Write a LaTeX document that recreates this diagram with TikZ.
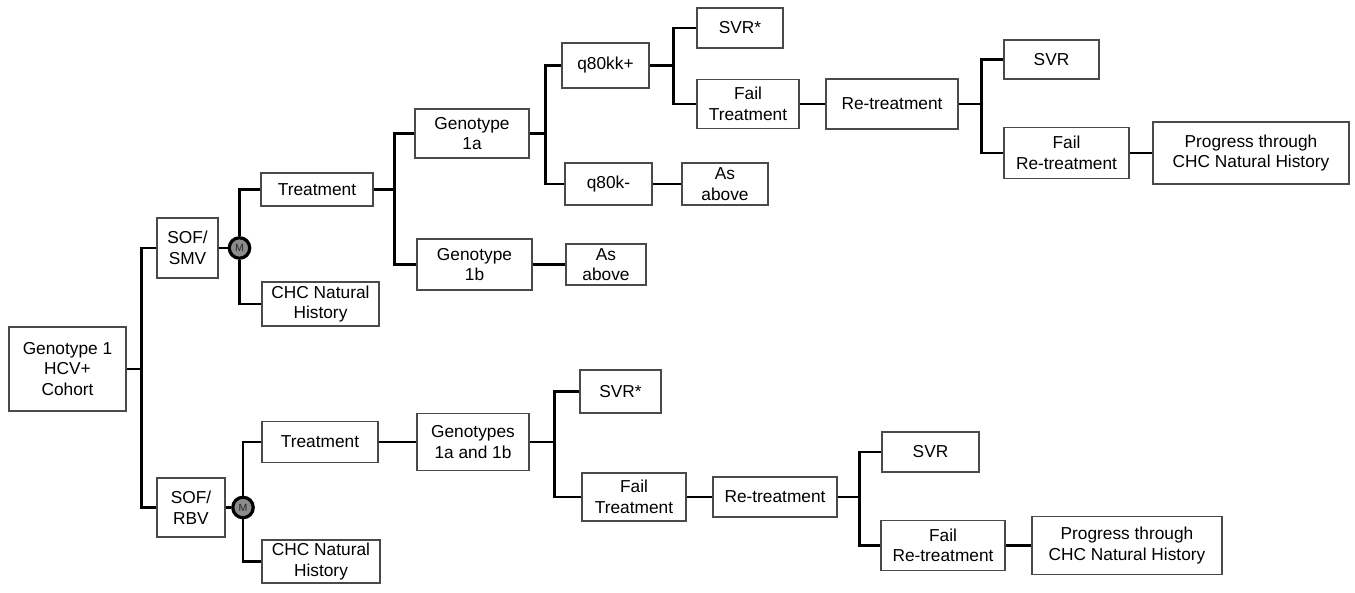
\documentclass[tikz,border=0pt]{standalone}
\usepackage{fontspec}
\setmainfont{Liberation Sans}
\definecolor{boxgray}{HTML}{4A4A4A}
\definecolor{mfill}{HTML}{8C8C8C}
\newcommand\nodefont{\fontsize{17.3}{20.5}\selectfont}
\begin{document}
\begin{tikzpicture}[x=1pt,y=-1pt,
  box/.style={draw=boxgray, line width=1.1pt, fill=white, align=center, inner sep=0pt, font=\nodefont},
  conn/.style={line width=2.8pt, black},
  mnode/.style={circle, draw=black, line width=3.2pt, fill=mfill, minimum size=20.5pt, inner sep=0pt, text=black!85, font=\fontsize{10.5}{10.5}\selectfont}]
\useasboundingbox[fill=white] (0,0) rectangle (1355,593);

% nodes
\node[box, minimum width=117pt, minimum height=84pt] (g1) at (67.5,369) {Genotype 1\\HCV+\\Cohort};
\node[box, minimum width=61pt, minimum height=60pt] (smv) at (187.5,248) {SOF/\\SMV};
\node[box, minimum width=68pt, minimum height=59pt] (rbv) at (191,507.5) {SOF/\\RBV};
\node[box, minimum width=112pt, minimum height=33pt] (tr1) at (317,189.5) {Treatment};
\node[box, minimum width=117pt, minimum height=44pt] (chc1) at (320.5,304) {CHC Natural\\History};
\node[box, minimum width=116pt, minimum height=41pt] (tr2) at (320,442) {Treatment};
\node[box, minimum width=118pt, minimum height=43pt] (chc2) at (321,561.5) {CHC Natural\\History};
\node[box, minimum width=114pt, minimum height=49pt] (g1a) at (472,133.5) {Genotype\\1a};
\node[box, minimum width=115pt, minimum height=51pt] (g1b) at (474.5,264.5) {Genotype\\1b};
\node[box, minimum width=80pt, minimum height=41pt] (ab1b) at (606,264.5) {As\\above};
\node[box, minimum width=87pt, minimum height=45pt] (q80p) at (605.5,65.5) {q80kk+};
\node[box, minimum width=87pt, minimum height=42pt] (q80m) at (608.5,184) {q80k-};
\node[box, minimum width=86pt, minimum height=42pt] (ab1a) at (725,184) {As\\above};
\node[box, minimum width=86pt, minimum height=40pt] (svrs1) at (740,28) {SVR*};
\node[box, minimum width=102pt, minimum height=49pt] (ft1) at (748,104) {Fail\\Treatment};
\node[box, minimum width=132pt, minimum height=50pt] (rt1) at (892,104) {Re-treatment};
\node[box, minimum width=95pt, minimum height=39pt] (svr1) at (1051.5,59.5) {SVR};
\node[box, minimum width=125pt, minimum height=51pt] (frt1) at (1066.5,153) {Fail\\Re-treatment};
\node[box, minimum width=196pt, minimum height=62pt] (pr1) at (1251,153) {Progress through\\CHC Natural History};
\node[box, minimum width=112pt, minimum height=57pt] (g1ab) at (473,442) {Genotypes\\1a and 1b};
\node[box, minimum width=81pt, minimum height=43pt] (svrs2) at (620.5,391.5) {SVR*};
\node[box, minimum width=104pt, minimum height=48pt] (ft2) at (634,497) {Fail\\Treatment};
\node[box, minimum width=124pt, minimum height=40pt] (rt2) at (775,497) {Re-treatment};
\node[box, minimum width=97pt, minimum height=40pt] (svr2) at (930.5,452) {SVR};
\node[box, minimum width=124pt, minimum height=50pt] (frt2) at (943,545.5) {Fail\\Re-treatment};
\node[box, minimum width=190pt, minimum height=58pt] (pr2) at (1127,545.5) {Progress through\\CHC Natural History};

% junction points
\coordinate (j1) at ([xshift=15pt]g1.east);
\coordinate (j2) at ([xshift=21pt]tr1.east);
\coordinate (j3) at ([xshift=16pt]g1a.east);
\coordinate (j4) at ([xshift=24pt]q80p.east);
\coordinate (j5) at ([xshift=23pt]rt1.east);
\coordinate (j6) at ([xshift=25pt]g1ab.east);
\coordinate (j7) at ([xshift=22pt]rt2.east);

% M nodes
\node[mnode] (m1) at (239.5,248) {M};
\node[mnode] (m2) at (243,507.5) {M};

% connectors
\draw[conn] (g1.east) -- (j1);
\draw[conn] (smv.west) -| (j1) |- (rbv.west);
\draw[conn] (smv.east) -- (m1.west);
\draw[conn] (m1.north) |- (tr1.west);
\draw[conn] (m1.south) |- (chc1.west);
\draw[conn] (rbv.east) -- (m2.west);
\draw[conn] (m2.north) |- (tr2.west);
\draw[conn] (m2.south) |- (chc2.west);

\draw[conn] (tr1.east) -- (j2);
\draw[conn] (g1a.west) -| (j2) |- (g1b.west);
\draw[conn] (g1b.east) -- (ab1b.west);

\draw[conn] (g1a.east) -- (j3);
\draw[conn] (q80p.west) -| (j3) |- (q80m.west);
\draw[conn] (q80m.east) -- (ab1a.west);

\draw[conn] (q80p.east) -- (j4);
\draw[conn] (svrs1.west) -| (j4) |- (ft1.west);
\draw[conn] (ft1.east) -- (rt1.west);

\draw[conn] (rt1.east) -- (j5);
\draw[conn] (svr1.west) -| (j5) |- (frt1.west);
\draw[conn] (frt1.east) -- (pr1.west);

\draw[conn] (tr2.east) -- (g1ab.west);
\draw[conn] (g1ab.east) -- (j6);
\draw[conn] (svrs2.west) -| (j6) |- (ft2.west);
\draw[conn] (ft2.east) -- (rt2.west);

\draw[conn] (rt2.east) -- (j7);
\draw[conn] (svr2.west) -| (j7) |- (frt2.west);
\draw[conn] (frt2.east) -- (pr2.west);
\end{tikzpicture}
\end{document}
